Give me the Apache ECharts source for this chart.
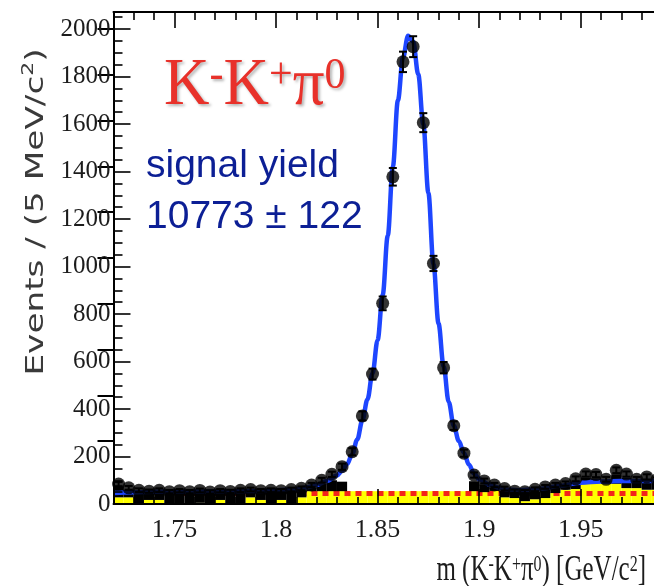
<!DOCTYPE html>
<html>
<head>
<meta charset="utf-8">
<script src="https://cdn.jsdelivr.net/npm/echarts@6/dist/echarts.min.js"></script>
<style>
  html, body { margin: 0; padding: 0; background: #ffffff; }
  #chart { width: 654px; height: 586px; }
</style>
</head>
<body>
<div id="chart"></div>
<script>
// m(K-K+pi0) spectrum, 5 MeV/c^2 bins
const binWidth = 0.005;
const binCenters = [
  1.7225, 1.7275, 1.7325, 1.7375, 1.7425, 1.7475, 1.7525, 1.7575, 1.7625, 1.7675,
  1.7725, 1.7775, 1.7825, 1.7875, 1.7925, 1.7975, 1.8025, 1.8075, 1.8125, 1.8175,
  1.8225, 1.8275, 1.8325, 1.8375, 1.8425, 1.8475, 1.8525, 1.8575, 1.8625, 1.8675,
  1.8725, 1.8775, 1.8825, 1.8875, 1.8925, 1.8975, 1.9025, 1.9075, 1.9125, 1.9175,
  1.9225, 1.9275, 1.9325, 1.9375, 1.9425, 1.9475, 1.9525, 1.9575, 1.9625, 1.9675,
  1.9725, 1.9775, 1.9825, 1.9875
];
// observed events per bin
const eventCounts = [
  84, 68, 58, 54, 58, 52, 56, 52, 57, 51,
  56, 53, 58, 61, 56, 58, 56, 61, 66, 80,
  100, 125, 157, 220, 371, 547, 845, 1378, 1862, 1926,
  1606, 1013, 574, 330, 214, 122, 97, 80, 65, 54,
  52, 62, 72, 80, 86, 106, 126, 124, 104, 142,
  126, 104, 114, 102
];
const eventErrors = [
  9, 8, 8, 7, 8, 7, 7, 7, 8, 7,
  7, 7, 8, 8, 7, 8, 7, 8, 8, 9,
  10, 11, 13, 15, 19, 23, 29, 37, 43, 44,
  40, 32, 24, 18, 15, 11, 10, 9, 8, 7,
  7, 8, 8, 9, 9, 10, 11, 11, 10, 12,
  11, 10, 11, 10
];
// peaking background (yellow), bottom of the stack
const peakingBkg = [
  28, 28, 0, 17, 17, 0, 0, 0, 5, 0,
  17, 0, 0, 28, 17, 0, 17, 0, 28, 54,
  54, 54, 54, 54, 54, 54, 54, 54, 54, 54,
  54, 54, 54, 54, 54, 54, 50, 55, 28, 25,
  12, 20, 25, 46, 60, 63, 88, 88, 85, 85,
  67, 67, 60, 60
];
// other background (black), stacked on the peaking component
const otherBkg = [
  46, 32, 54, 37, 37, 52, 54, 52, 49, 51,
  37, 53, 56, 28, 37, 56, 37, 56, 30, 14,
  30, 46, 40, 0, 0, 0, 0, 0, 0, 0,
  0, 0, 0, 0, 0, 42, 32, 13, 26, 25,
  38, 32, 35, 22, 14, 28, 22, 20, 7, 39,
  43, 25, 40, 30
];
// flat combinatorial component (red dotted)
const flatMass = [1.72, 1.99];
const flatLevel = [44, 44];
// total fit (blue)
const fitMass = [
  1.72, 1.73, 1.74, 1.75, 1.76, 1.77, 1.78, 1.79, 1.80, 1.805,
  1.81, 1.815, 1.82, 1.825, 1.83, 1.8325, 1.835, 1.8375, 1.84, 1.8425,
  1.845, 1.8475, 1.85, 1.8525, 1.855, 1.8575, 1.86, 1.8625, 1.865, 1.8675,
  1.87, 1.8725, 1.875, 1.8775, 1.88, 1.8825, 1.885, 1.8875, 1.89, 1.8925,
  1.895, 1.8975, 1.90, 1.905, 1.91, 1.915, 1.92, 1.93, 1.94, 1.95,
  1.96, 1.97, 1.98, 1.99
];
const fitTotal = [
  46, 50, 52, 53, 53, 53, 54, 55, 57, 60,
  63, 70, 80, 97, 120, 140, 168, 210, 272, 352,
  440, 550, 690, 880, 1130, 1420, 1700, 1880, 1972, 1948,
  1810, 1600, 1310, 1010, 760, 580, 430, 330, 265, 215,
  165, 128, 104, 82, 68, 60, 58, 64, 77, 90,
  95, 97, 97, 97
];
const massRange = [1.72, 1.99];
const countRange = [0, 2072];
const countStep = 200;
const rightTickCount = 9;

const yellowData = binCenters.map((m, i) => [m, 0, peakingBkg[i]]);
const blackData = binCenters.map((m, i) => [m, peakingBkg[i], peakingBkg[i] + otherBkg[i]]);
const pointData = binCenters.map((m, i) => [m, eventCounts[i], eventErrors[i]]);
const fitData = fitMass.map((m, i) => [m, fitTotal[i]]);
const flatData = flatMass.map((m, i) => [m, flatLevel[i]]);

function histItem(color) {
  return function (params, api) {
    const m = api.value(0), lo = api.value(1), hi = api.value(2);
    if (hi <= lo) return null;
    const a = api.coord([m - binWidth / 2, hi]);
    const b = api.coord([m + binWidth / 2, lo]);
    return {
      type: 'rect',
      shape: { x: a[0], y: a[1], width: b[0] - a[0], height: b[1] - a[1] },
      style: { fill: color }
    };
  };
}

function errorItem(params, api) {
  const m = api.value(0), v = api.value(1), e = api.value(2);
  const top = api.coord([m, v + e]);
  const bot = api.coord([m, v - e]);
  const cap = 4;
  const st = { stroke: '#000', lineWidth: 2 };
  return {
    type: 'group',
    children: [
      { type: 'line', shape: { x1: top[0], y1: top[1], x2: bot[0], y2: bot[1] }, style: st },
      { type: 'line', shape: { x1: top[0] - cap, y1: top[1], x2: top[0] + cap, y2: top[1] }, style: st },
      { type: 'line', shape: { x1: bot[0] - cap, y1: bot[1], x2: bot[0] + cap, y2: bot[1] }, style: st }
    ]
  };
}

const serif = 'Liberation Serif, Times New Roman, serif';
const sans = 'Liberation Sans, Arial, sans-serif';
const black2 = { color: '#000', width: 2 };
const tickStyle = { color: '#000', width: 1.6 };
const plain = v => String(v);

const chart = echarts.init(document.getElementById('chart'), null, { renderer: 'canvas' });
chart.setOption({
  animation: false,
  backgroundColor: '#ffffff',
  grid: [
    { left: 113.5, right: -8, top: 12, bottom: 82, containLabel: false, outerBoundsMode: 'none' },
    { left: 113.5, right: -8, top: 29, height: 412.2, containLabel: false, outerBoundsMode: 'none' }
  ],
  xAxis: [
    {
      gridIndex: 0, type: 'value', min: massRange[0], max: massRange[1], splitNumber: 5, z: 50,
      axisLine: { show: true, lineStyle: black2 },
      axisTick: { show: true, inside: true, length: 15, lineStyle: tickStyle },
      minorTick: { show: true, splitNumber: 5, length: 7, lineStyle: tickStyle },
      axisLabel: {
        show: true, margin: 13, fontFamily: serif, fontSize: 26, color: '#1c1c1c',
        showMinLabel: false, showMaxLabel: false, formatter: plain
      },
      splitLine: { show: false }
    },
    {
      gridIndex: 0, type: 'value', position: 'top', min: massRange[0], max: massRange[1], splitNumber: 5, z: 50,
      axisLine: { show: true, lineStyle: black2 },
      axisTick: { show: true, inside: true, length: 16, lineStyle: tickStyle },
      minorTick: { show: true, splitNumber: 5, length: 8, lineStyle: tickStyle },
      axisLabel: { show: false },
      splitLine: { show: false }
    },
    { gridIndex: 1, type: 'value', min: 0, max: 1, show: false }
  ],
  yAxis: [
    {
      gridIndex: 0, type: 'value', min: countRange[0], max: countRange[1], interval: countStep, z: 50,
      axisLine: { show: true, lineStyle: black2 },
      axisTick: { show: true, inside: true, length: 17, lineStyle: tickStyle },
      minorTick: { show: true, splitNumber: 4, length: 9, lineStyle: tickStyle },
      axisLabel: {
        show: true, margin: 3, fontFamily: serif, fontSize: 25, color: '#1c1c1c',
        showMaxLabel: false, formatter: plain
      },
      splitLine: { show: false }
    },
    {
      gridIndex: 1, type: 'value', position: 'right', min: 0, max: rightTickCount, interval: 1, z: 50,
      axisLine: { show: false },
      axisTick: { show: true, inside: true, length: 16, lineStyle: { color: '#000', width: 2 } },
      axisLabel: { show: false },
      splitLine: { show: false }
    }
  ],
  series: [
    {
      name: 'peaking background', type: 'custom', xAxisIndex: 0, yAxisIndex: 0, z: 2,
      renderItem: histItem('#ffff00'), data: yellowData, clip: true
    },
    {
      name: 'flat background', type: 'line', xAxisIndex: 0, yAxisIndex: 0, z: 3,
      data: flatData, showSymbol: false, symbol: 'none',
      lineStyle: { color: '#f3231b', width: 5, type: [6, 5] }
    },
    {
      name: 'other background', type: 'custom', xAxisIndex: 0, yAxisIndex: 0, z: 4,
      renderItem: histItem('#000000'), data: blackData, clip: true
    },
    {
      name: 'total fit', type: 'line', xAxisIndex: 0, yAxisIndex: 0, z: 5,
      data: fitData, showSymbol: false, symbol: 'none', smooth: 0.35, smoothMonotone: 'x', clip: true,
      lineStyle: { color: '#1e46ff', width: 4.5 }
    },
    {
      name: 'data errors', type: 'custom', xAxisIndex: 0, yAxisIndex: 0, z: 6,
      renderItem: errorItem, data: pointData, clip: true
    },
    {
      name: 'data', type: 'scatter', xAxisIndex: 0, yAxisIndex: 0, z: 7,
      data: pointData.map(p => [p[0], p[1]]), symbol: 'circle', symbolSize: 13,
      itemStyle: { color: '#000000' }
    }
  ],
  graphic: [
    {
      type: 'text', x: 36, y: 212, rotation: Math.PI / 2, scaleX: 1.37, z: 60,
      style: {
        text: '{t|Events / (5 MeV/c}{s|2}{t|)}',
        align: 'center', verticalAlign: 'middle',
        rich: {
          t: { fontFamily: 'DejaVu Sans, sans-serif', fontSize: 25, fill: '#3a3a3a', lineHeight: 30 },
          s: { fontFamily: 'DejaVu Sans, sans-serif', fontSize: 16, fill: '#3a3a3a', verticalAlign: 'top', lineHeight: 16 }
        }
      }
    },
    {
      type: 'text', x: 164, y: 86, scaleY: 1.07, z: 60,
      style: {
        text: '{m|K}{u|-}{m|K}{u|+}{m|π}{u|0}',
        align: 'left', verticalAlign: 'middle',
        textShadowColor: 'rgba(0,0,0,0.3)', textShadowBlur: 3, textShadowOffsetX: 2, textShadowOffsetY: 2,
        rich: {
          m: { fontFamily: serif, fontSize: 63, fill: '#e8312a', lineHeight: 60 },
          u: { fontFamily: serif, fontSize: 42, fill: '#e8312a', verticalAlign: 'top', lineHeight: 38 }
        }
      }
    },
    {
      type: 'text', x: 146, y: 166, z: 60,
      style: { text: 'signal yield', fontFamily: sans, fontSize: 39, fill: '#0c1f95', verticalAlign: 'middle' }
    },
    {
      type: 'text', x: 146, y: 217, z: 60,
      style: { text: '10773 ± 122', fontFamily: sans, fontSize: 39, fill: '#0c1f95', verticalAlign: 'middle' }
    },
    {
      type: 'text', x: 646, y: 571, scaleY: 1.4, z: 60,
      style: {
        text: '{n|m (K}{s|-}{n|K}{s|+}{n|π}{s|0}{n|) [GeV/c}{s|2}{n|]}',
        align: 'right', verticalAlign: 'middle',
        rich: {
          n: { fontFamily: serif, fontSize: 25, fill: '#1c1c1c', lineHeight: 25 },
          s: { fontFamily: serif, fontSize: 16, fill: '#1c1c1c', verticalAlign: 'top', lineHeight: 14 }
        }
      }
    }
  ]
});
</script>
</body>
</html>
